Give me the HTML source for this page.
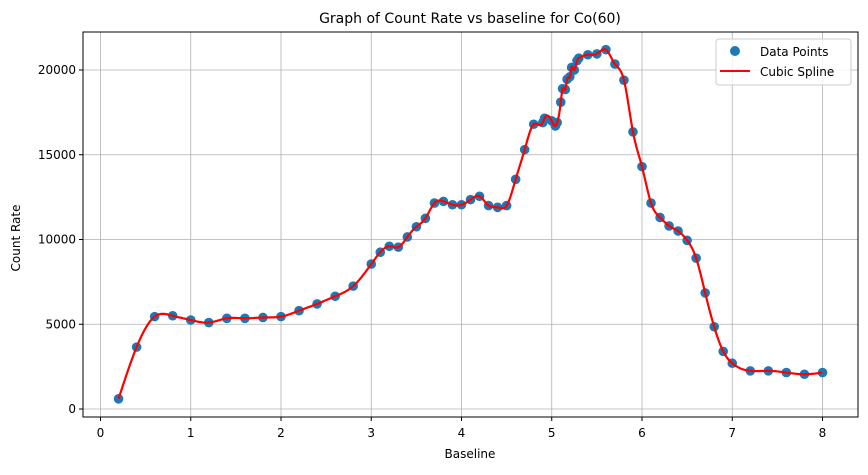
<!DOCTYPE html>
<html><head><meta charset="utf-8"><style>
body{margin:0;background:#fff;font-family:"Liberation Sans","DejaVu Sans",sans-serif}
svg text{font-family:"DejaVu Sans","Liberation Sans",sans-serif}
</style></head><body>
<svg id="chart" width="868" height="470" xmlns="http://www.w3.org/2000/svg">
<rect width="868" height="470" fill="#fff"/>
<g id="grid"></g><g id="ticks"></g><g id="marks"></g>
<rect x="83" y="32" width="775" height="385" fill="none" stroke="#000" stroke-width="1"/>
<text x="470" y="23" text-anchor="middle" font-size="14">Graph of Count Rate vs baseline for Co(60)</text>
<text x="470" y="458" text-anchor="middle" font-size="12">Baseline</text>
<text transform="translate(20,238) rotate(-90)" text-anchor="middle" font-size="12">Count Rate</text>
<g>
<rect x="716" y="39" width="135" height="46" rx="3" fill="#fff" fill-opacity="0.8" stroke="#ccc"/>
<circle cx="735" cy="51" r="5" fill="#1f77b4"/>
<text x="760" y="56" font-size="12">Data Points</text>
<line x1="720" y1="71" x2="750" y2="71" stroke="red" stroke-width="2"/>
<text x="760" y="76" font-size="12">Cubic Spline</text>
</g>
</svg>
<script>
const xs=[0.2,0.4,0.6,0.8,1.0,1.2,1.4,1.6,1.8,2.0,2.2,2.4,2.6,2.8,3.0,3.1,3.2,3.3,3.4,3.5,3.6,3.7,3.8,3.9,4.0,4.1,4.2,4.3,4.4,4.5,4.6,4.7,4.8,4.9,4.92,5.0,5.04,5.06,5.1,5.12,5.15,5.17,5.2,5.22,5.25,5.28,5.3,5.4,5.5,5.6,5.7,5.8,5.9,6.0,6.1,6.2,6.3,6.4,6.5,6.6,6.7,6.8,6.9,7.0,7.2,7.4,7.6,7.8,8.0];
const ys=[600,3650,5450,5500,5250,5100,5350,5350,5400,5450,5800,6200,6650,7250,8550,9250,9600,9550,10150,10750,11250,12150,12250,12050,12050,12350,12550,12000,11900,12000,13550,15300,16800,16900,17150,17000,16700,16900,18100,18900,18850,19450,19600,20150,20000,20550,20700,20900,20950,21200,20350,19400,16350,14300,12150,11300,10800,10500,9950,8900,6850,4850,3400,2700,2250,2250,2150,2050,2150];
const xTicks=[0,1,2,3,4,5,6,7,8];
const yTicks=[0,5000,10000,15000,20000];
const NS="http://www.w3.org/2000/svg";
const X=v=>100.5+v*90.25, Y=v=>409-v*0.01695;
function mk(t,a,p){const e=document.createElementNS(NS,t);for(const k in a)e.setAttribute(k,a[k]);p.appendChild(e);return e;}
const grid=document.getElementById('grid'),ticks=document.getElementById('ticks'),marks=document.getElementById('marks');
xTicks.forEach(t=>{const l=mk('line',{x1:X(t),x2:X(t),y1:32,y2:417,stroke:'#b0b0b0','stroke-width':0.8},grid);

mk('line',{x1:X(t),x2:X(t),y1:417,y2:421,stroke:'#000'},ticks);
const tx=mk('text',{x:X(t),y:437,'text-anchor':'middle','font-size':12},ticks);tx.textContent=t;
});
yTicks.forEach(t=>{const l=mk('line',{x1:83,x2:858,y1:Y(t),y2:Y(t),stroke:'#b0b0b0','stroke-width':0.8},grid);

mk('line',{x1:79,x2:83,y1:Y(t),y2:Y(t),stroke:'#000'},ticks);
const tx=mk('text',{x:76,y:Y(t)+4,'text-anchor':'end','font-size':12},ticks);tx.textContent=t;
});
xs.forEach((x,i)=>{const c=mk('circle',{cx:X(x),cy:Y(ys[i]),r:4.8,fill:'#1f77b4'},marks);
});
const n=xs.length,h=[],al=[],l=[1],mu=[0],z=[0],c=new Array(n).fill(0),b=[],d=[];
for(let i=0;i<n-1;i++)h[i]=xs[i+1]-xs[i];
for(let i=1;i<n-1;i++)al[i]=3/h[i]*(ys[i+1]-ys[i])-3/h[i-1]*(ys[i]-ys[i-1]);
for(let i=1;i<n-1;i++){l[i]=2*(xs[i+1]-xs[i-1])-h[i-1]*mu[i-1];mu[i]=h[i]/l[i];z[i]=(al[i]-h[i-1]*z[i-1])/l[i];}
for(let j=n-2;j>=0;j--){c[j]=z[j]-mu[j]*c[j+1];b[j]=(ys[j+1]-ys[j])/h[j]-h[j]*(c[j+1]+2*c[j])/3;d[j]=(c[j+1]-c[j])/(3*h[j]);}
let p='';
for(let i=0;i<n-1;i++){for(let k=0;k<=12;k++){const dx=h[i]*k/12;const v=ys[i]+b[i]*dx+c[i]*dx*dx+d[i]*dx*dx*dx;p+=(p?'L':'M')+X(xs[i]+dx).toFixed(2)+','+Y(v).toFixed(2);}}
const sp=mk('path',{d:p,fill:'none',stroke:'red','stroke-width':2.2},marks);

</script>
</body></html>
